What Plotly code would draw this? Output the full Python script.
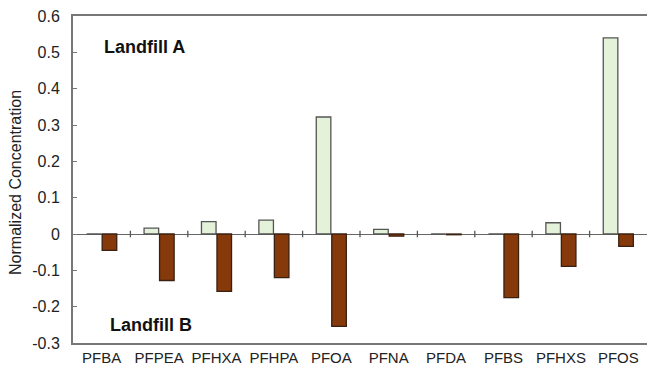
import plotly.graph_objects as go

categories = ["PFBA", "PFPEA", "PFHXA", "PFHPA", "PFOA", "PFNA", "PFDA", "PFBS", "PFHXS", "PFOS"]
landfill_a = [0.0, 0.016, 0.034, 0.038, 0.322, 0.013, 0.0, 0.0, 0.031, 0.540]
landfill_b = [-0.045, -0.128, -0.158, -0.120, -0.254, -0.006, -0.002, -0.175, -0.089, -0.034]
y_ticks = [-0.3, -0.2, -0.1, 0, 0.1, 0.2, 0.3, 0.4, 0.5, 0.6]
y_labels = ["-0.3", "-0.2", "-0.1", "0", "0.1", "0.2", "0.3", "0.4", "0.5", "0.6"]

fig = go.Figure()
fig.add_trace(go.Bar(x=categories, y=landfill_a, name="Landfill A",
                     marker=dict(color="#e3f2d8", line=dict(color="#555555", width=1.3))))
fig.add_trace(go.Bar(x=categories, y=landfill_b, name="Landfill B",
                     marker=dict(color="#86390b", line=dict(color="#3a2010", width=1.3))))

# tick marks on the zero line at category boundaries
for i in range(1, len(categories)):
    fig.add_shape(type="line", xref="x", yref="y", x0=i - 0.5, x1=i - 0.5,
                  y0=-0.009, y1=0.009, line=dict(color="#555555", width=1.3))

fig.add_annotation(text="<b>Landfill A</b>", xref="paper", yref="y", x=0.05, y=0.515,
                   xanchor="left", yanchor="middle", showarrow=False,
                   font=dict(family="Arial", size=18, color="#111111"))
fig.add_annotation(text="<b>Landfill B</b>", xref="paper", yref="y", x=0.061, y=-0.251,
                   xanchor="left", yanchor="middle", showarrow=False,
                   font=dict(family="Arial", size=18, color="#111111"))
# y-axis title
fig.add_annotation(text="Normalized Concentration", xref="paper", yref="paper",
                   x=-0.099, y=0.49, xanchor="center", yanchor="middle", textangle=-90,
                   showarrow=False, font=dict(family="Arial", size=16, color="#222222"))

fig.update_layout(
    width=647, height=369,
    margin=dict(l=73, r=0, t=16, b=26, autoexpand=False),
    paper_bgcolor="white", plot_bgcolor="white",
    showlegend=False,
    barmode="group", bargap=0.46, bargroupgap=0.06,
    font=dict(family="Arial", color="#222222"),
)
fig.update_xaxes(showline=True, linecolor="#777777", linewidth=2, mirror=True,
                 ticks="", showgrid=False, tickfont=dict(size=15, family="Arial"),
                 range=[-0.5, 9.5], automargin=False)
fig.update_yaxes(range=[-0.3, 0.6], tickvals=y_ticks, ticktext=y_labels,
                 showline=True, linecolor="#777777", linewidth=2,
                 ticks="inside", ticklen=4, tickcolor="#777777", ticklabelstandoff=8,
                 showgrid=False, zeroline=True, zerolinecolor="#666666", zerolinewidth=1.3,
                 tickfont=dict(size=16, family="Arial"), automargin=False)

fig.write_html("out.html", config={"displayModeBar": False},
               post_script="document.body.style.margin='0';document.body.style.padding='0';")
